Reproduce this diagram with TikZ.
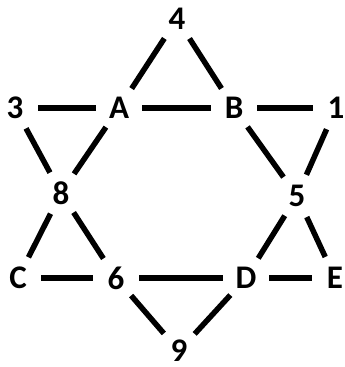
\documentclass[tikz,border=0pt]{standalone}
\usepackage{fontspec}
\setmainfont{Carlito}
\usepackage{tikz}
\usetikzlibrary{positioning}

\begin{document}
\begin{tikzpicture}[
  x=1pt,y=-1pt,
  every node/.style={font=\bfseries\fontsize{33}{33}\selectfont},
  pt/.style={circle,minimum size=46pt,inner sep=0pt},
  edge/.style={line width=5.5pt,color=black}
]
\useasboundingbox (0,0) rectangle (345,367);
% outer points and inner hexagon
\node[pt] (n4) at (177,19) {4};
\node[pt] (n3) at (15,108) {3};
\node[pt] (A) at (119,108) {A};
\node[pt] (B) at (234,108) {B};
\node[pt] (n1) at (336,108) {1};
\node[pt] (n8) at (61,193) {8};
\node[pt] (n5) at (297,196) {5};
\node[pt] (C) at (18,278) {C};
\node[pt] (n6) at (116,278) {6};
\node[pt] (D) at (246,278) {D};
\node[pt] (E) at (335,278) {E};
\node[pt] (n9) at (179,351) {9};
\draw[edge] (n4) -- (A);
\draw[edge] (n4) -- (B);
\draw[edge] (n3) -- (A);
\draw[edge] (A) -- (B);
\draw[edge] (B) -- (n1);
\draw[edge] (n3) -- (n8);
\draw[edge] (A) -- (n8);
\draw[edge] (B) -- (n5);
\draw[edge] (n1) -- (n5);
\draw[edge] (n8) -- (C);
\draw[edge] (n8) -- (n6);
\draw[edge] (n5) -- (D);
\draw[edge] (n5) -- (E);
\draw[edge] (C) -- (n6);
\draw[edge] (n6) -- (D);
\draw[edge] (D) -- (E);
\draw[edge] (n6) -- (n9);
\draw[edge] (D) -- (n9);
\end{tikzpicture}
\end{document}
